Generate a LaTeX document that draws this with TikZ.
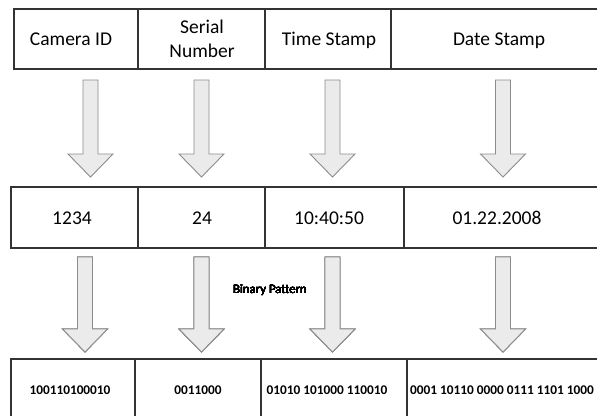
\documentclass[tikz,border=0pt]{standalone}
\usepackage{fontspec}
\setmainfont{Carlito}
\usetikzlibrary{calc}
\tikzstyle{field}=[font=\fontsize{19.5}{24}\selectfont, align=center, inner sep=0pt, anchor=base]
\tikzstyle{bits}=[font=\fontsize{13.3}{16}\selectfont\bfseries, inner sep=0pt, anchor=base]
\tikzstyle{rowline}=[draw=black!80, line width=1.3pt]
\tikzstyle{blockarrow}=[draw=black!45, line width=0.9pt, fill=black!8, line join=miter]
\newcommand{\downblock}[3]{ % Syntax: {center x}{top y}{tip y}
\pgfmathsetmacro{\hw}{7.5} % half of the shaft
\pgfmathsetmacro{\hh}{22.5} % half of the head
\pgfmathsetmacro{\hb}{#3-23} % where the head starts
\draw[blockarrow] (#1-\hw,#2) -- (#1+\hw,#2) -- (#1+\hw,\hb) -- (#1+\hh,\hb) -- (#1,#3)
    -- (#1-\hh,\hb) -- (#1-\hw,\hb) -- cycle;
}

\begin{document}
\begin{tikzpicture}[x=1pt,y=-1pt]
	\useasboundingbox (0,0) rectangle (597,415);
	\clip (0,0) rectangle (597,415);
	% field names
	\draw[rowline] (14,9) rectangle (620,69);
	\foreach \x in {138,265,391} \draw[rowline] (\x,9) -- (\x,69);
	\node[field] (cam) at (71,45) {Camera ID};
	\node[field,anchor=center] (serial) at (202,39) {Serial\\Number};
	\node[field] (time) at (329,45) {Time Stamp};
	\node[field] (date) at (499,45) {Date Stamp};
	% values
	\draw[rowline] (11,187) rectangle (620,248);
	\foreach \x in {138,265,404} \draw[rowline] (\x,187) -- (\x,248);
	\node[field] (camval) at (72,224) {1234};
	\node[field] (serialval) at (202,224) {24};
	\node[field] (timeval) at (329,224) {10:40:50};
	\node[field] (dateval) at (497,224) {01.22.2008};
	% binary
	\draw[rowline] (11,359) rectangle (620,440);
	\foreach \x in {135,261,407} \draw[rowline] (\x,359) -- (\x,440);
	\node[bits] (cambits) at (70,394) {100110100010};
	\node[bits] (serialbits) at (198,394) {0011000};
	\node[bits] (timebits) at (327,394) {01010 101000 110010};
	\node[bits,anchor=base west] (datebits) at (410,394) {0001 10110 0000 0111 1101 1000};
	% arrows
	\foreach \x in {90.5,201.5,332.5,503} \downblock{\x}{80}{177}
	\foreach \x in {85,201.5,332.5,503} \downblock{\x}{257}{352}
	\node[font=\fontsize{12.8}{15}\selectfont, inner sep=0pt, anchor=base] (pattern) at (270,293) {Binary Pattern};
\end{tikzpicture}
\end{document}
